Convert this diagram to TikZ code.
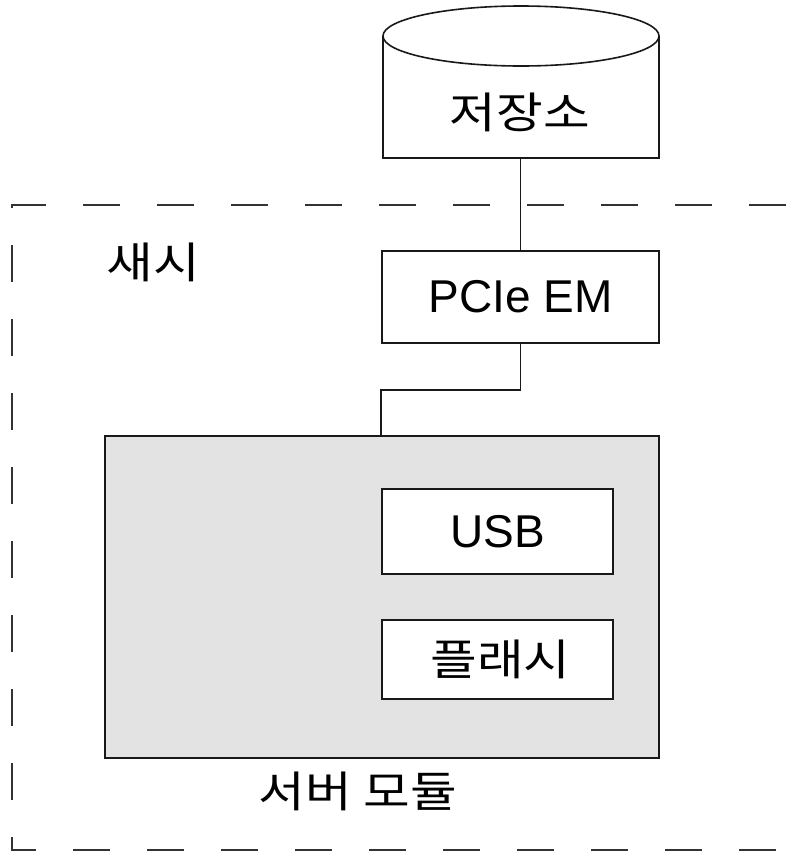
\documentclass[tikz,border=0pt]{standalone}
\usepackage{fontspec}
\setmainfont{Liberation Sans}
\newfontfamily\kr{Noto Sans CJK KR}[FakeStretch=1.18]
\begin{document}
\begin{tikzpicture}[x=1pt,y=-1pt,
  line width=1.6pt,
  box/.style={draw=black!90, fill=white, rectangle, inner sep=0pt, font=\fontsize{46}{52}\selectfont},
  lbl/.style={inner sep=0pt, font=\kr\fontsize{43}{48}\selectfont},
  frame/.style={draw=black!80, line width=1.6pt, dash pattern=on 37pt off 37pt}]
\clip (0,0) rectangle (791,852);
\fill[white] (0,0) rectangle (791,852);
% chassis frame
\coordinate (ftl) at (12,205);
\coordinate (fbl) at (12,850);
\draw[frame] (46,205) -- (ftl) -- (fbl) -- (830,850);
\draw[frame, dash phase=37pt] (46,205) -- (830,205);
\node[lbl] (chassis) at (153,262) {새시};
% storage cylinder
\draw[draw=black!90, fill=white] (383,36) -- (383,158) -- (659,158) -- (659,36);
\draw[draw=black!90, fill=white] (521,36) ellipse [x radius=138, y radius=30];
\node[lbl, minimum width=276pt, minimum height=92pt] (store) at (520,112) {저장소};
% PCIe EM
\node[box, minimum width=277pt, minimum height=92pt] (pcie) at (520.5,297) {PCIe EM};
% server module
\node[draw=black!90, fill=black!11, rectangle, inner sep=0pt, minimum width=554pt, minimum height=322pt] (server) at (382,597) {};
\node[box, minimum width=231pt, minimum height=85pt] (usb) at (497.5,531.5) {USB};
\node[box, lbl, draw=black!90, fill=white, minimum width=231pt, minimum height=79pt] (flash) at (497.5,659.5) {\hspace{6pt}플래시};
\node[lbl] (srvlbl) at (358,791) {서버 모듈};
% connectors
\draw[black!90] (store.south -| pcie.north) -- (pcie.north);
\draw[black!90] (pcie.south) -- ++(0,46) -| (usb.west |- server.north);
\end{tikzpicture}
\end{document}
